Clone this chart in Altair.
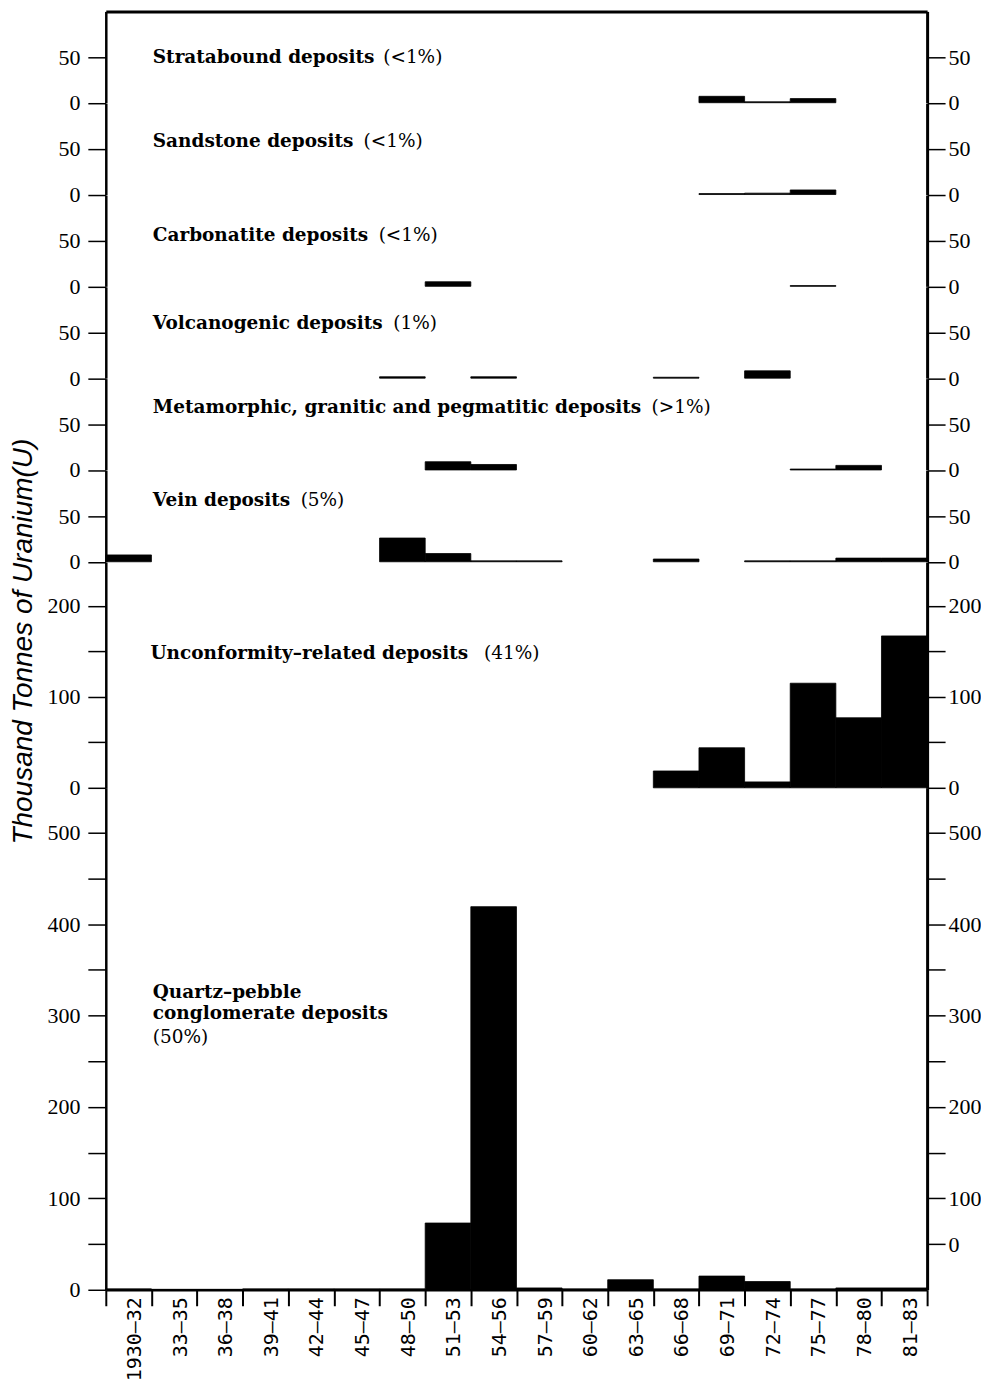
import altair as alt
import pandas as pd

periods = ["1930–32", "33–35", "36–38", "39–41", "42–44", "45–47", "48–50", "51–53", "54–56",
           "57–59", "60–62", "63–65", "66–68", "69–71", "72–74", "75–77", "78–80", "81–83"]

# thousand tonnes U discovered per period
stratabound  = [0, 0, 0, 0, 0, 0, 0, 0, 0, 0, 0, 0, 0, 7, 1, 4.5, 0, 0]
sandstone    = [0, 0, 0, 0, 0, 0, 0, 0, 0, 0, 0, 0, 0, 1, 1.5, 5, 0, 0]
carbonatite  = [0, 0, 0, 0, 0, 0, 0, 5, 0, 0, 0, 0, 0, 0, 0, 0.8, 0, 0]
volcanogenic = [0, 0, 0, 0, 0, 0, 1.5, 0, 1.5, 0, 0, 0, 1, 0, 8, 0, 0, 0]
metamorphic  = [0, 0, 0, 0, 0, 0, 0, 9, 6, 0, 0, 0, 0, 0, 0, 1, 5, 0]
vein         = [7.5, 0, 0, 0, 0, 0, 26, 9, 1, 1, 0, 0, 3, 0, 1, 1, 4, 4]
unconformity = [0, 0, 0, 0, 0, 0, 0, 0, 0, 0, 0, 0, 18.5, 44, 6.5, 115, 77, 167]
quartz       = [1, 0.5, 0.5, 1, 1, 1, 1, 73, 419, 2, 1, 11, 1, 15, 9, 1, 2, 2]

names = ["Stratabound deposits", "Sandstone deposits", "Carbonatite deposits",
         "Volcanogenic deposits", "Metamorphic, granitic and pegmatitic deposits",
         "Vein deposits", "Unconformity–related deposits"]
shares = ["(<1%)", "(<1%)", "(<1%)", "(1%)", "(>1%)", "(5%)", "(41%)"]
quartz_lines = ["Quartz–pebble", "conglomerate deposits"]
quartz_share = "(50%)"

# layout of the annotations (data units of each panel)
name_x = [1.03, 1.03, 1.03, 1.03, 1.03, 1.03, 0.98]
name_y = [50, 59, 56.5, 60, 69, 68, 148]
share_x = [6.08, 5.65, 5.98, 6.3, 11.96, 4.27, 8.29]
quartz_line_y = [326, 303]
quartz_share_y = 276

XS = alt.Scale(domain=[0, 18], nice=False, zero=False, padding=0)
label_arr = "[''," + ",".join("'%s'" % p for p in periods) + "]"

AX = dict(labelFont="Liberation Serif", labelFontSize=22, labelColor="black",
          tickSize=18, tickWidth=1.5, tickColor="black",
          domainColor="black", grid=False, labelFlush=False, labelOverlap=False)

TXT = dict(align="left", baseline="middle", font="DejaVu Serif", fontSize=18.5, color="black")


def make_panel(vals, ymax, h, lvals, rvals, lexpr, rexpr, bold, reg,
               top=False, bottom=False, title=None):
    df = pd.DataFrame({"x": list(range(18)), "x2": list(range(1, 19)), "v": vals})
    df["v0"] = 0
    df = df[df.v > 0]
    if top:
        xaxis = alt.Axis(orient="top", ticks=False, labels=False, title=None,
                         domain=True, domainWidth=3, domainColor="black", grid=False)
    elif bottom:
        xaxis = alt.Axis(orient="bottom", values=list(range(19)),
                         labelExpr=label_arr + "[datum.value]",
                         labelAngle=270, labelOffset=-17, labelPadding=-9,
                         tickSize=16, tickWidth=2, tickColor="black",
                         domainWidth=2.5, domainColor="black",
                         labelFont="DejaVu Sans Mono", labelFontSize=20, labelColor="black",
                         labelFlush=False, labelOverlap=False, labelBound=False,
                         grid=False, title=None)
    else:
        xaxis = None
    ys = alt.Scale(domain=[0, ymax], nice=False, zero=True, padding=0)
    if title:
        laxis = alt.Axis(orient="left", values=lvals, labelExpr=lexpr, title=title,
                         titleFont="Liberation Sans", titleFontStyle="italic",
                         titleFontWeight="normal", titleFontSize=28, titleColor="black",
                         titleX=-82, titleY=79, titleBaseline="middle", titleAngle=270,
                         domainWidth=2.5, labelPadding=8, **AX)
    else:
        laxis = alt.Axis(orient="left", values=lvals, labelExpr=lexpr, title=None,
                         domainWidth=2.5, labelPadding=8, **AX)
    raxis = alt.Axis(orient="right", values=rvals, labelExpr=rexpr, title=None,
                     domainWidth=3, labelPadding=3, **AX)
    base = alt.Chart(df)
    bars = base.mark_bar(color="black", stroke="black", strokeWidth=0.8).encode(
        x=alt.X("x:Q", scale=XS, axis=xaxis), x2="x2",
        y=alt.Y("v:Q", scale=ys, axis=laxis), y2="v0")
    right = base.mark_bar(opacity=0).encode(
        x=alt.X("x:Q", scale=XS, axis=xaxis), x2="x2",
        y=alt.Y("v:Q", scale=ys, axis=raxis), y2="v0")
    tb = alt.Chart(pd.DataFrame(bold)).mark_text(fontWeight="bold", **TXT).encode(
        x=alt.X("x:Q", scale=XS, axis=xaxis), y=alt.Y("v:Q", scale=ys, axis=None), text="t:N")
    tr = alt.Chart(pd.DataFrame(reg)).mark_text(fontWeight="normal", **TXT).encode(
        x=alt.X("x:Q", scale=XS, axis=xaxis), y=alt.Y("v:Q", scale=ys, axis=None), text="t:N")
    return alt.layer(bars, right, tb, tr).resolve_axis(y="independent").properties(
        width=823, height=h)


small = [stratabound, sandstone, carbonatite, volcanogenic, metamorphic, vein]
panels = []
for i, vals in enumerate(small):
    panels.append(make_panel(
        vals, 100, 91.5, [0, 50], [0, 50], "datum.label", "datum.label",
        [{"x": name_x[i], "v": name_y[i], "t": names[i]}],
        [{"x": share_x[i], "v": name_y[i], "t": shares[i]}],
        top=(i == 0)))

panels.append(make_panel(
    unconformity, 248, 226, [0, 50, 100, 150, 200], [0, 50, 100, 150, 200],
    "datum.value % 100 == 0 ? datum.label : ''", "datum.value % 100 == 0 ? datum.label : ''",
    [{"x": name_x[6], "v": name_y[6], "t": names[6]}],
    [{"x": share_x[6], "v": name_y[6], "t": shares[6]}],
    title="Thousand Tonnes of Uranium(U)"))

panels.append(make_panel(
    quartz, 549, 503, list(range(0, 501, 50)), list(range(50, 501, 50)),
    "datum.value % 100 == 0 ? datum.label : ''",
    "datum.value == 50 ? '0' : (datum.value % 100 == 0 ? datum.label : '')",
    [{"x": 1.03, "v": quartz_line_y[k], "t": quartz_lines[k]} for k in range(2)],
    [{"x": 1.03, "v": quartz_share_y, "t": quartz_share}],
    bottom=True))

chart = alt.vconcat(*panels, spacing=0, bounds="flush").resolve_scale(
    x="independent", y="independent").configure_view(stroke=None).properties(
    padding={"left": 1, "top": 2, "right": 0, "bottom": 0})

chart.save("out.html", embed_options={"renderer": "svg", "actions": False})
